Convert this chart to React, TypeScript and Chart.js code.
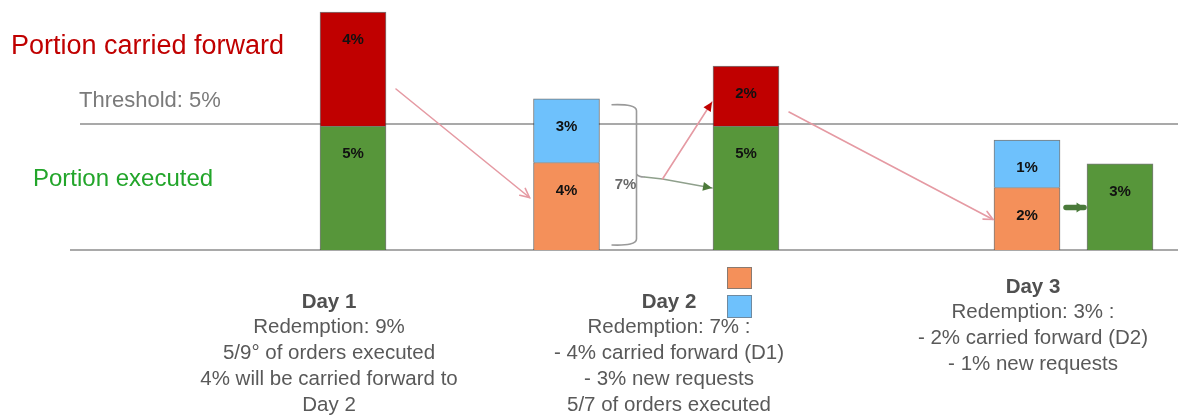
import React, { useEffect, useRef } from "react";
import { Chart, registerables } from "chart.js";

Chart.register(...registerables);

// Bars along the diagram (position units on the x scale)
const barSlots = [3.53, 5.665, 7.46, 10.27, 11.2];
const barNames = ["Day 1", "Day 2 requests", "Day 2 result", "Day 3 requests", "Day 3 result"];

// Segment heights (scale units: the 5% threshold sits at 5)
const executedValues = [4.96, null, 4.96, null, 3.45];
const carriedInValues = [null, 3.5, null, 2.5, null];
const newRequestValues = [null, 2.55, null, 1.9, null];
const carriedOutValues = [4.56, null, 2.4, null, null];

// Labels printed on the segments
const executedLabels = ["5%", "", "5%", "", "3%"];
const carriedInLabels = ["", "4%", "", "2%", ""];
const newRequestLabels = ["", "3%", "", "1%", ""];
const carriedOutLabels = ["4%", "", "2%", "", ""];

const thresholdValue = 5;
const baselineValue = 0;
const totalDay2Label = "7%";

const titleCarried = "Portion carried forward";
const titleThreshold = "Threshold: 5%";
const titleExecuted = "Portion executed";

const day1Lines = ["Day 1", "Redemption: 9%", "5/9° of orders executed", "4% will be carried forward to", "Day 2"];
const day2Lines = ["Day 2", "Redemption: 7% :", "- 4% carried forward (D1)", "- 3% new requests", "5/7 of orders executed"];
const day3Lines = ["Day 3", "Redemption: 3% :", "- 2% carried forward (D2)", "- 1% new requests"];

const RED = "#c00000";
const GREEN = "#57963a";
const ORANGE = "#f4905a";
const BLUE = "#6ec1fc";
const LINE_GRAY = "#a9a9a9";
const TEXT_GRAY = "#595959";
const ARROW_PINK = "#e59aa3";
const SANS = "'Liberation Sans', Arial, sans-serif";

type Pt = { x: number; y: number; k: number };

function toPoints(values: (number | null)[]): Pt[] {
  const out: Pt[] = [];
  values.forEach((v, i) => {
    if (v !== null) out.push({ x: barSlots[i], y: v, k: i });
  });
  return out;
}

function drawArrow(
  ctx: CanvasRenderingContext2D,
  pts: [number, number][],
  color: string,
  width: number,
  head: "open" | "filled",
  headColor: string,
  headSize: number,
  spread = 0.45
) {
  ctx.save();
  ctx.strokeStyle = color;
  ctx.lineWidth = width;
  ctx.lineCap = "round";
  ctx.beginPath();
  ctx.moveTo(pts[0][0], pts[0][1]);
  for (let i = 1; i < pts.length; i++) ctx.lineTo(pts[i][0], pts[i][1]);
  ctx.stroke();
  const [x2, y2] = pts[pts.length - 1];
  const [x1, y1] = pts[pts.length - 2];
  const a = Math.atan2(y2 - y1, x2 - x1);
  const s = headSize;
  const p1: [number, number] = [x2 - s * Math.cos(a - spread), y2 - s * Math.sin(a - spread)];
  const p2: [number, number] = [x2 - s * Math.cos(a + spread), y2 - s * Math.sin(a + spread)];
  if (head === "open") {
    ctx.strokeStyle = headColor;
    ctx.beginPath();
    ctx.moveTo(p1[0], p1[1]);
    ctx.lineTo(x2, y2);
    ctx.lineTo(p2[0], p2[1]);
    ctx.stroke();
  } else {
    ctx.fillStyle = headColor;
    ctx.beginPath();
    ctx.moveTo(x2, y2);
    ctx.lineTo(p1[0], p1[1]);
    ctx.lineTo(p2[0], p2[1]);
    ctx.closePath();
    ctx.fill();
  }
  ctx.restore();
}

function textAt(
  ctx: CanvasRenderingContext2D,
  text: string,
  x: number,
  y: number,
  font: string,
  color: string,
  align: CanvasTextAlign = "center"
) {
  ctx.save();
  ctx.font = font;
  ctx.fillStyle = color;
  ctx.textAlign = align;
  ctx.textBaseline = "middle";
  ctx.fillText(text, x, y);
  ctx.restore();
}

const diagramPlugin = {
  id: "diagram",
  beforeDatasetsDraw(chart: any) {
    const { ctx, scales } = chart;
    const y = scales.y;
    const right = chart.chartArea.right;
    ctx.save();
    ctx.strokeStyle = LINE_GRAY;
    ctx.lineWidth = 2;
    ctx.beginPath();
    const ty = y.getPixelForValue(thresholdValue) - 1;
    ctx.moveTo(80, ty);
    ctx.lineTo(right, ty);
    const by = y.getPixelForValue(baselineValue);
    ctx.moveTo(70, by);
    ctx.lineTo(right, by);
    ctx.stroke();
    ctx.restore();
  },
  afterDatasetsDraw(chart: any) {
    const { ctx } = chart;
    const labelSets = [executedLabels, carriedInLabels, newRequestLabels, carriedOutLabels];
    const el = (ds: number, k: number) => {
      const meta = chart.getDatasetMeta(ds);
      const data = chart.data.datasets[ds].data as Pt[];
      const j = data.findIndex((p) => p.k === k);
      return j >= 0 ? meta.data[j] : null;
    };

    // segment labels
    labelSets.forEach((labels, ds) => {
      labels.forEach((lab, k) => {
        const e: any = el(ds, k);
        if (!e || !lab) return;
        textAt(ctx, lab, e.x, e.y + 28, `bold 15px ${SANS}`, "#111");
      });
    });

    const d1Red: any = el(3, 0);
    const d2Orange: any = el(1, 1);
    const d2Blue: any = el(2, 1);
    const d2Green: any = el(0, 2);
    const d2Red: any = el(3, 2);
    const d3Orange: any = el(1, 3);
    const d3Green: any = el(0, 4);
    const half = (e: any) => e.width / 2;

    // arrow Day1 -> Day2 carried in
    drawArrow(
      ctx,
      [
        [d1Red.x + half(d1Red) + 10, d1Red.y + 77],
        [d2Orange.x - half(d2Orange) - 4, d2Orange.y + 35],
      ],
      ARROW_PINK, 1.6, "open", ARROW_PINK, 10
    );

    // brace around Day 2 requests
    const bx0 = d2Blue.x + half(d2Blue) + 12;
    const bx1 = bx0 + 25;
    const bTop = d2Blue.y + 6;
    const bBot = d2Orange.base - 5;
    const bMid = 177;
    ctx.save();
    ctx.strokeStyle = "#9a9a9a";
    ctx.lineWidth = 1.6;
    ctx.beginPath();
    ctx.moveTo(bx0, bTop);
    ctx.quadraticCurveTo(bx1, bTop - 1, bx1, bTop + 6);
    ctx.lineTo(bx1, bBot - 6);
    ctx.quadraticCurveTo(bx1, bBot + 1, bx0, bBot);
    ctx.moveTo(bx1, bMid - 3);
    ctx.quadraticCurveTo(bx1 + 2, bMid, bx1 + 8, bMid);
    ctx.stroke();
    ctx.restore();
    textAt(ctx, totalDay2Label, bx0 + 14, 185, `bold 15px ${SANS}`, "#6a6a6a");

    // split arrows to Day 2 result
    const split: [number, number] = [bx1 + 26, bMid + 2];
    drawArrow(
      ctx,
      [[bx1 + 8, bMid], split, [d2Green.x - half(d2Green) - 1, d2Green.y + 62]],
      "#8fa08c", 1.6, "filled", "#4d7a3a", 10
    );
    drawArrow(
      ctx,
      [split, [d2Red.x - half(d2Red) - 1, d2Red.y + 36]],
      ARROW_PINK, 1.6, "filled", RED, 10
    );

    // arrow Day2 carried out -> Day3 carried in
    drawArrow(
      ctx,
      [
        [d2Red.x + half(d2Red) + 10, d2Red.y + 46],
        [d3Orange.x - half(d3Orange) - 1, d3Orange.y + 32],
      ],
      ARROW_PINK, 1.6, "open", ARROW_PINK, 10
    );

    // thick arrow Day3 requests -> executed
    const ay = d3Orange.y + 20;
    ctx.save();
    ctx.lineCap = "butt";
    ctx.restore();
    drawArrow(
      ctx,
      [
        [d3Orange.x + half(d3Orange) + 6, ay],
        [d3Green.x - half(d3Green) - 3, ay],
      ],
      "#4a7a3a", 5.5, "filled", "#4a7a3a", 9, 0.6
    );

    // small legend squares under Day 2 result
    const lx = d2Green.x - 19;
    ctx.save();
    ctx.lineWidth = 1;
    ctx.strokeStyle = "#8a7a70";
    ctx.fillStyle = ORANGE;
    ctx.fillRect(lx, 267, 25, 22);
    ctx.strokeRect(lx + 0.5, 267.5, 24, 21);
    ctx.strokeStyle = "#6f8aa0";
    ctx.fillStyle = BLUE;
    ctx.fillRect(lx, 295, 25, 23);
    ctx.strokeRect(lx + 0.5, 295.5, 24, 22);
    ctx.restore();

    // left titles
    textAt(ctx, titleCarried, 11, 47, `27px ${SANS}`, RED, "left");
    textAt(ctx, titleThreshold, 79, 101, `22px ${SANS}`, "#7a7a7a", "left");
    textAt(ctx, titleExecuted, 33, 179, `24px ${SANS}`, "#22a52a", "left");

    // day descriptions
    const block = (lines: string[], cx: number, y0: number) => {
      lines.forEach((t, i) => {
        const font = i === 0 ? `bold 20.5px ${SANS}` : `20.5px ${SANS}`;
        textAt(ctx, t, cx, y0 + i * 25.8, font, i === 0 ? "#505050" : TEXT_GRAY);
      });
    };
    block(day1Lines, 329, 302);
    block(day2Lines, 669, 302);
    block(day3Lines, 1033, 287);
  },
};

export default function App() {
  const ref = useRef<HTMLCanvasElement | null>(null);
  useEffect(() => {
    if (!ref.current) return;
    const border = "rgba(50,50,50,0.65)";
    const chart = new Chart(ref.current, {
      type: "bar",
      data: {
        labels: barNames,
        datasets: [
          { label: "Portion executed", data: toPoints(executedValues) as any, backgroundColor: GREEN, borderColor: border },
          { label: "Carried forward from previous day", data: toPoints(carriedInValues) as any, backgroundColor: ORANGE, borderColor: border },
          { label: "New requests", data: toPoints(newRequestValues) as any, backgroundColor: BLUE, borderColor: border },
          { label: "Portion carried forward", data: toPoints(carriedOutValues) as any, backgroundColor: RED, borderColor: border },
        ],
      },
      options: {
        animation: false,
        responsive: true,
        maintainAspectRatio: false,
        layout: { padding: 0 },
        plugins: { legend: { display: false }, tooltip: { enabled: false } },
        datasets: { bar: { barThickness: 66, borderWidth: 1 } } as any,
        scales: {
          x: { type: "linear", min: 0, max: 11.78, offset: false, stacked: true, display: false },
          y: { min: -6.64, max: 10, stacked: true, display: false },
        },
      },
      plugins: [diagramPlugin],
    });
    return () => chart.destroy();
  }, []);
  return (
    <div style={{ position: "fixed", left: 0, top: 0, width: 1178, height: 416, background: "#fff" }}>
      <canvas ref={ref} />
    </div>
  );
}
